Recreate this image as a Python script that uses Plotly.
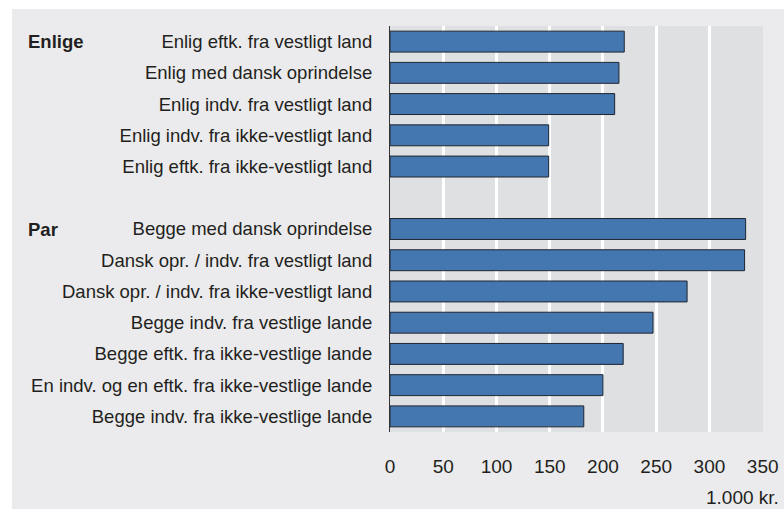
import plotly.graph_objects as go

# Household income, 1.000 kr., by household type and origin
categories = [
    "Enlig eftk. fra vestligt land",
    "Enlig med dansk oprindelse",
    "Enlig indv. fra vestligt land",
    "Enlig indv. fra ikke-vestligt land",
    "Enlig eftk. fra ikke-vestligt land",
    " ",
    "Begge med dansk oprindelse",
    "Dansk opr. / indv. fra vestligt land",
    "Dansk opr. / indv. fra ikke-vestligt land",
    "Begge indv. fra vestlige lande",
    "Begge eftk. fra ikke-vestlige lande",
    "En indv. og en eftk. fra ikke-vestlige lande",
    "Begge indv. fra ikke-vestlige lande",
]
values = [220, 215, 211, 149, 149, None, 334, 333, 279, 247, 219, 200, 182]

group_labels = ["Enlige", "Par"]
group_rows = ["Enlig eftk. fra vestligt land", "Begge med dansk oprindelse"]

x_ticks = [0, 50, 100, 150, 200, 250, 300, 350]
unit_label = "1.000 kr."

FONT = "Liberation Sans, Arial, sans-serif"
TEXT = "#231F20"
OUTER_BG = "#EBEBED"
PLOT_BG = "#DFE0E2"
BAR = "#4477B0"

W, H = 784, 509
ML, MR, MT, MB = 390, 21, 26, 77
PW, PH = W - ML - MR, H - MT - MB


def px_to_paper_x(px):
    return (px - ML) / PW


def px_to_paper_y(py):
    return (H - MB - py) / PH


fig = go.Figure(
    go.Bar(
        x=values,
        y=categories,
        orientation="h",
        marker=dict(color=BAR, line=dict(color="#1E2530", width=1)),
        width=0.67,
        hoverinfo="x+y",
    )
)

# white strips framing the grey panel along the top and left edges
fig.add_shape(type="rect", xref="paper", yref="paper",
              x0=px_to_paper_x(-5), x1=px_to_paper_x(W + 5),
              y0=px_to_paper_y(9), y1=px_to_paper_y(-5),
              fillcolor="white", line=dict(width=0), layer="above")
fig.add_shape(type="rect", xref="paper", yref="paper",
              x0=px_to_paper_x(-5), x1=px_to_paper_x(12),
              y0=px_to_paper_y(H + 5), y1=px_to_paper_y(-5),
              fillcolor="white", line=dict(width=0), layer="above")

for label, row in zip(group_labels, group_rows):
    fig.add_annotation(
        x=px_to_paper_x(26), xref="paper", xanchor="left",
        y=row, yref="y", yanchor="middle",
        text=f"<b>{label}</b>", showarrow=False,
        font=dict(family=FONT, size=18.5, color=TEXT),
    )

fig.add_annotation(
    x=px_to_paper_x(781), xref="paper", xanchor="right",
    y=px_to_paper_y(497), yref="paper", yanchor="middle",
    text=unit_label, showarrow=False,
    font=dict(family=FONT, size=19, color=TEXT),
)

fig.update_layout(
    width=W, height=H,
    margin=dict(l=ML, r=MR, t=MT, b=MB, pad=0, autoexpand=False),
    paper_bgcolor=OUTER_BG,
    plot_bgcolor=PLOT_BG,
    showlegend=False,
    bargap=0.33,
    font=dict(family=FONT, size=18.5, color=TEXT),
    xaxis=dict(
        range=[0, 350.3],
        tickvals=x_ticks,
        ticktext=[str(v) for v in x_ticks],
        showgrid=True, gridcolor="white", gridwidth=2.5,
        zeroline=False, showline=False, ticks="",
        ticklabelstandoff=21,
        tickfont=dict(family=FONT, size=19, color=TEXT),
        automargin=False,
        fixedrange=True,
    ),
    yaxis=dict(
        type="category",
        categoryorder="array",
        categoryarray=categories,
        range=[len(categories) - 0.5, -0.5],
        showgrid=False, zeroline=False,
        showline=True, linecolor="#333333", linewidth=1.2,
        ticks="", ticklabelstandoff=13,
        tickfont=dict(family=FONT, size=18.5, color=TEXT),
        automargin=False,
        fixedrange=True,
    ),
)

fig.write_html("out.html")
